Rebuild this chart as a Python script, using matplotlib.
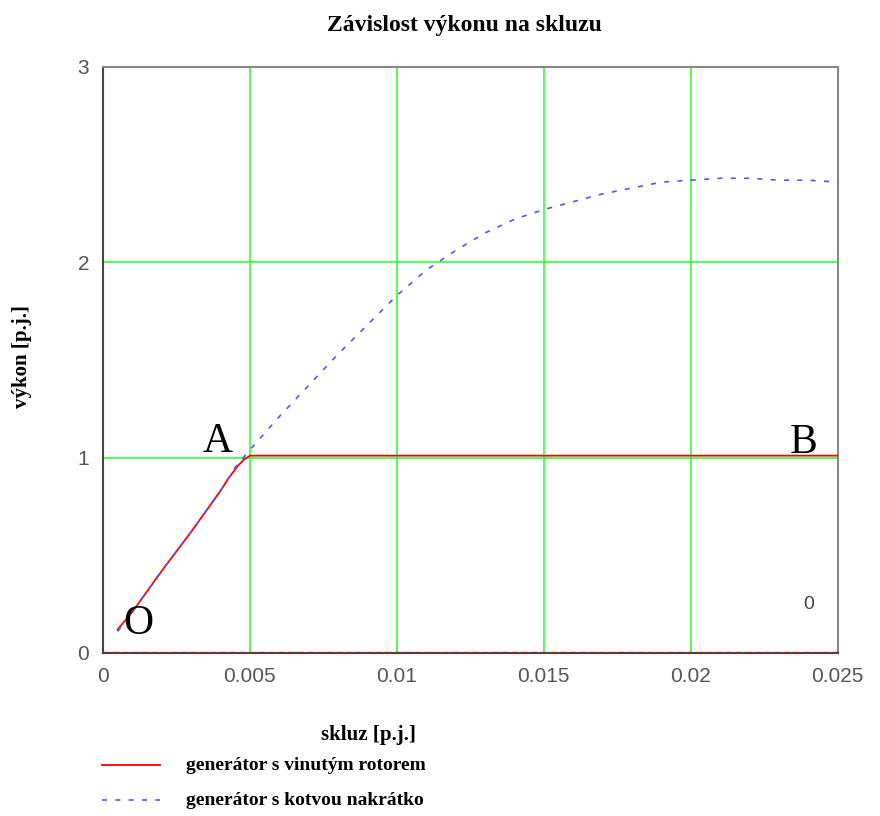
import matplotlib.pyplot as plt
from matplotlib.lines import Line2D

plt.rcParams['font.family'] = ['Liberation Serif', 'DejaVu Serif']

# generátor s vinutým rotorem
s_red = [0.0005, 0.001, 0.002, 0.003, 0.004, 0.0043, 0.0046, 0.0048, 0.005,
         0.01, 0.015, 0.02, 0.025]
p_red = [0.12, 0.21, 0.42, 0.62, 0.83, 0.90, 0.96, 0.99, 1.01,
         1.01, 1.01, 1.01, 1.01]

# generátor s kotvou nakrátko
s_blue = [0.0005, 0.001, 0.002, 0.003, 0.004, 0.0045, 0.005, 0.006, 0.007, 0.008,
          0.009, 0.010, 0.011, 0.012, 0.013, 0.014, 0.015, 0.016, 0.017, 0.018,
          0.019, 0.020, 0.021, 0.022, 0.023, 0.024, 0.025]
p_blue = [0.11, 0.21, 0.42, 0.62, 0.83, 0.95, 1.04, 1.21, 1.37, 1.53, 1.68, 1.83,
          1.96, 2.06, 2.15, 2.22, 2.27, 2.31, 2.35, 2.38, 2.41, 2.42, 2.43, 2.43,
          2.42, 2.42, 2.41]

x_ticks = [0, 0.005, 0.01, 0.015, 0.02, 0.025]
x_tick_labels = ['0', '0.005', '0.01', '0.015', '0.02', '0.025']
y_ticks = [0, 1, 2, 3]

fig = plt.figure(figsize=(8.8, 8.16), dpi=100)
ax = fig.add_axes([0.117, 0.1998, 0.835, 0.7182])

# zelená mřížka
for xv in x_ticks[1:-1]:
    ax.axvline(xv, color='#33ff33', lw=1.2, zorder=1)
for yv in y_ticks[1:-1]:
    ax.axhline(yv, color='#33ff33', lw=1.2, zorder=1)

ax.plot(s_red, p_red, color='red', lw=1.3, zorder=3)
ax.plot([0, 0.025], [0.003, 0.003], color='red', lw=1.0, ls=(0, (4, 3)), alpha=0.7, zorder=3)
ax.plot(s_blue, p_blue, color='#5555ff', lw=1.2, ls=(0, (3, 5)), zorder=4)

ax.set_xlim(0, 0.025)
ax.set_ylim(0, 3)
ax.set_xticks(x_ticks)
ax.set_xticklabels(x_tick_labels)
ax.set_yticks(y_ticks)
ax.tick_params(length=0, labelsize=15, labelcolor='#555555', pad=10)
for lbl in ax.get_xticklabels() + ax.get_yticklabels():
    lbl.set_family('Liberation Sans')
for sp in ax.spines.values():
    sp.set_color('#888888')
    sp.set_linewidth(1.5)
ax.spines['left'].set_color('#444444')
ax.spines['bottom'].set_color('#444444')

ax.text(0.0044, 0.985, 'A', fontsize=30, ha='right', va='bottom', zorder=5)
ax.text(0.0243, 0.975, 'B', fontsize=30, ha='right', va='bottom', zorder=5)
ax.text(0.0012, 0.05, 'O', fontsize=30, ha='center', va='bottom', zorder=5)
ax.text(0.0240, 0.25, '0', fontsize=14, color='#444444', ha='center', va='center',
        family='Liberation Sans')

fig.text(0.528, 0.969, 'Závislost výkonu na skluzu', fontsize=17, fontweight='bold',
         ha='center', va='center')
fig.text(0.025, 0.5625, 'výkon [p.j.]', fontsize=15, fontweight='bold', rotation=90,
         ha='center', va='center')
fig.text(0.419, 0.099, 'skluz [p.j.]', fontsize=15, fontweight='bold',
         ha='center', va='center')

# legenda
fig.add_artist(Line2D([0.116, 0.182], [0.0625, 0.0625], color='red', lw=1.3))
fig.add_artist(Line2D([0.116, 0.182], [0.0195, 0.0195], color='#5555ff', lw=1.2,
                      ls=(0, (3, 5))))
fig.text(0.211, 0.0625, 'generátor s vinutým rotorem', fontsize=14, fontweight='bold',
         ha='left', va='center')
fig.text(0.211, 0.0195, 'generátor s kotvou nakrátko', fontsize=14, fontweight='bold',
         ha='left', va='center')

fig.savefig('out.png', dpi=100)
